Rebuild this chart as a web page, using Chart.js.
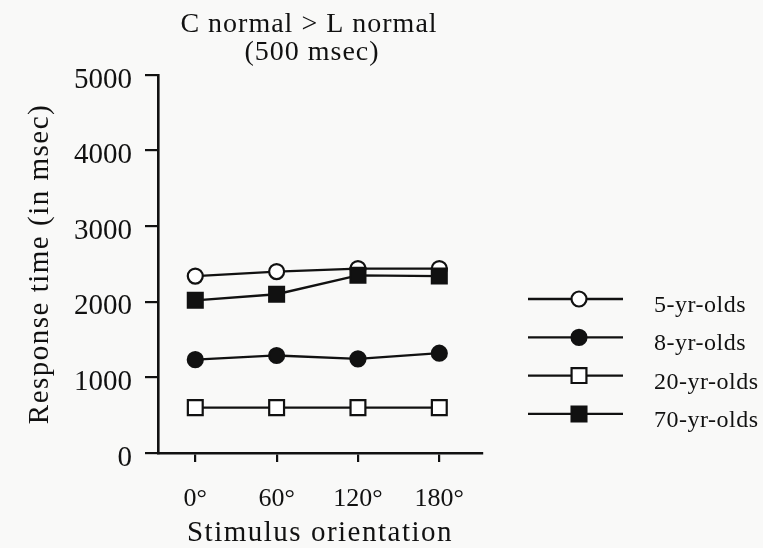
<!DOCTYPE html>
<html>
<head>
<meta charset="utf-8">
<script src="https://cdn.jsdelivr.net/npm/chart.js"></script>
<style>
  body { margin: 0; background: #f9f9f8; }
  #wrap { width: 763px; height: 548px; }
</style>
</head>
<body>
<div id="wrap"><canvas id="rtChart" width="763" height="548"></canvas></div>
<script>
// stimulus orientation (degrees)
var angles = [0, 60, 120, 180];
var groups = ["5-yr-olds", "8-yr-olds", "20-yr-olds", "70-yr-olds"];

// mean response time in msec, one row per group
var rt5 = [2340, 2400, 2440, 2440];
var rt8 = [1235, 1290, 1245, 1320];
var rt20 = [600, 600, 600, 600];
var rt70 = [2020, 2100, 2350, 2340];

var yTicks = [0, 1000, 2000, 3000, 4000, 5000];
var titleLines = ["C normal > L normal", "(500 msec)"];

var ink = '#111';
var serif = 'Liberation Serif, Times New Roman, serif';

function pts(vals) {
    return vals.map(function (v, i) { return { x: angles[i], y: v }; });
}

function serie(label, vals, style, filled, order) {
    return {
        label: label,
        data: pts(vals),
        borderColor: ink,
        borderWidth: 2.3,
        pointStyle: style,
        pointRadius: style == 'rect' ? 10.5 : 7.5,
        pointBorderWidth: 2.2,
        pointBorderColor: ink,
        pointBackgroundColor: filled ? ink : '#fff',
        order: order,
        fill: false,
        tension: 0
    };
}

// axis titles are set a little wide; tick labels are not
var spacing = {
    id: 'spacing',
    beforeDraw: function (chart) { chart.ctx.letterSpacing = '1.5px'; },
    beforeDatasetsDraw: function (chart) { chart.ctx.letterSpacing = '0px'; }
};

// title over the plot, two lines
var titlePlugin = {
    id: 'twoLineTitle',
    afterDraw: function (chart) {
        var c = chart.ctx;
        c.save();
        c.letterSpacing = '1px';
        c.fillStyle = ink;
        c.font = '28px ' + serif;
        c.textAlign = 'center';
        c.textBaseline = 'alphabetic';
        c.fillText(titleLines[0], 309, 32);
        c.fillText(titleLines[1], 312, 60);
        c.restore();
    }
};

// legend on the right: line with marker, then the label
var sideLegend = {
    id: 'sideLegend',
    afterDraw: function (chart) {
        var c = chart.ctx;
        var x0 = 528, x1 = 623, xm = 579, xt = 654;
        c.save();
        c.letterSpacing = '0.5px';
        chart.data.datasets.forEach(function (ds, i) {
            var y = 299 + i * 38.3;
            c.strokeStyle = ink;
            c.lineWidth = 2.3;
            c.beginPath();
            c.moveTo(x0, y);
            c.lineTo(x1, y);
            c.stroke();
            c.fillStyle = ds.pointBackgroundColor;
            c.strokeStyle = ds.pointBorderColor;
            c.lineWidth = ds.pointBorderWidth;
            Chart.helpers.drawPoint(c, {
                pointStyle: ds.pointStyle,
                radius: ds.pointRadius,
                borderWidth: ds.pointBorderWidth,
                rotation: 0
            }, xm, y);
            c.fillStyle = ink;
            c.font = '24px ' + serif;
            c.textAlign = 'left';
            c.textBaseline = 'alphabetic';
            c.fillText(ds.label, xt, y + 13);
        });
        c.restore();
    }
};

var ctx = document.getElementById('rtChart').getContext('2d');
var chart = new Chart(ctx, {
    type: 'line',
    data: {
        datasets: [
            serie(groups[0], rt5, 'circle', false, 2),
            serie(groups[1], rt8, 'circle', true, 2),
            serie(groups[2], rt20, 'rect', false, 2),
            serie(groups[3], rt70, 'rect', true, 1)
        ]
    },
    options: {
        responsive: false,
        animation: false,
        layout: { padding: { top: 75, right: 281, left: 0, bottom: 0 } },
        plugins: {
            legend: { display: false },
            title: { display: false },
            tooltip: { enabled: false }
        },
        scales: {
            x: {
                type: 'linear',
                min: -27.5,
                max: 211.5,
                afterBuildTicks: function (s) {
                    s.ticks = angles.map(function (v) { return { value: v }; });
                },
                afterFit: function (s) { s.height = 95; },
                ticks: {
                    z: 1,
                    color: ink,
                    font: { family: serif, size: 26 },
                    padding: 22,
                    maxRotation: 0,
                    callback: function (v) { return v + '°'; }
                },
                grid: { drawOnChartArea: false, drawTicks: true, tickLength: 9, color: ink, lineWidth: 2.2 },
                border: { display: true, color: ink, width: 2.5 },
                title: {
                    display: true,
                    text: 'Stimulus orientation',
                    color: ink,
                    font: { family: serif, size: 29, lineHeight: 1 },
                    padding: { top: 0, bottom: 0 }
                }
            },
            y: {
                min: 0,
                max: 5000,
                afterBuildTicks: function (s) {
                    s.ticks = yTicks.map(function (v) { return { value: v }; });
                },
                afterFit: function (s) { s.width = 158; },
                ticks: {
                    z: 1,
                    color: ink,
                    font: { family: serif, size: 29 },
                    padding: 13,
                    labelOffset: 5,
                    callback: function (v) { return String(v); }
                },
                grid: { drawOnChartArea: false, drawTicks: true, tickLength: 13, color: ink, lineWidth: 2.2 },
                border: { display: true, color: ink, width: 2.6 },
                title: {
                    display: true,
                    text: 'Response time (in msec)',
                    color: ink,
                    font: { family: serif, size: 29, lineHeight: 1 },
                    padding: { top: 25.5, bottom: 0 }
                }
            }
        }
    },
    plugins: [spacing, titlePlugin, sideLegend]
});
</script>
</body>
</html>
